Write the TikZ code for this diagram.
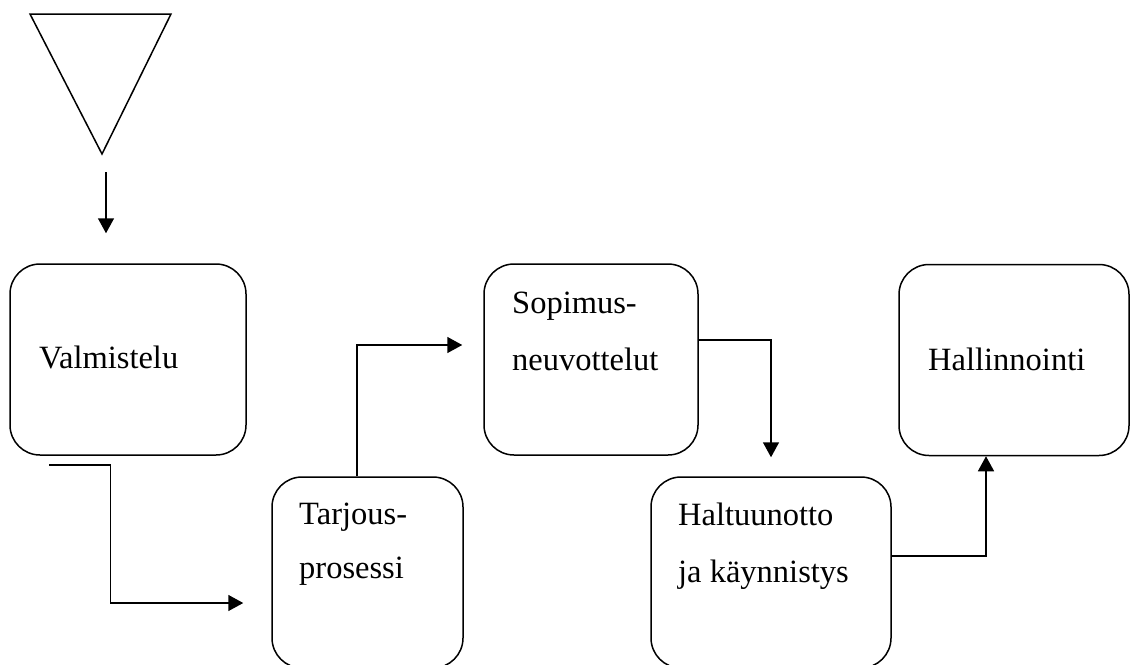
\documentclass[tikz,border=0pt]{standalone}
\usepackage{fontspec}
\setmainfont{Liberation Serif}
\usetikzlibrary{arrows.meta,positioning,calc}

\begin{document}
\begin{tikzpicture}[x=1pt,y=-1pt,
  box/.style={draw,line width=1.5pt,rounded corners=30pt,minimum height=191pt,inner sep=0pt},
  lab/.style={anchor=base west,inner sep=0pt,font=\fontsize{32.5pt}{38pt}\selectfont},
  conn/.style={line width=1.5pt,-{Triangle[length=15pt,width=16pt]}}]
\useasboundingbox (0,0) rectangle (1131,664);
\clip (0,0) rectangle (1131,664);
% start symbol
\draw[line width=1.5pt] (30,14) -- (171,14) -- (102,154) -- cycle;
\coordinate (start) at (106,172);
% process boxes
\node[box,minimum width=236pt] (valm) at (128,359.5) {};
\node[box,minimum width=191pt] (tarj) at (367.5,572.5) {};
\node[box,minimum width=214pt] (sopi) at (591,359.5) {};
\node[box,minimum width=240pt] (halt) at (771,572.5) {};
\node[box,minimum width=230pt] (hall) at (1014,360) {};
\node[lab] (valmt) at (39,368) {Valmistelu};
\node[lab] (tarjt1) at (299,524) {Tarjous-};
\node[lab] (tarjt2) at (299,578) {prosessi};
\node[lab] (sopit1) at (512,313) {Sopimus-};
\node[lab] (sopit2) at (512,370) {neuvottelut};
\node[lab] (haltt1) at (678,525) {Haltuunotto};
\node[lab] (haltt2) at (678,582) {ja käynnistys};
\node[lab] (hallt) at (928,370) {Hallinnointi};
% flow
\draw[conn] (start) -- ([xshift=-22pt,yshift=30pt]valm.north);
\draw[conn] ([xshift=40pt,yshift=-9pt]valm.south west) -- ++(61,0) |- ([xshift=-28pt,yshift=-30.5pt]tarj.west);
\draw[conn] ([xshift=-10.5pt]tarj.north) |- ([xshift=-21pt,yshift=14.5pt]sopi.west);
\draw[conn] ([yshift=19.5pt]sopi.east) -| ([yshift=19pt]halt.north);
\draw[conn] ([yshift=16.5pt]halt.east) -| ([xshift=-28pt]hall.south);
\end{tikzpicture}
\end{document}
